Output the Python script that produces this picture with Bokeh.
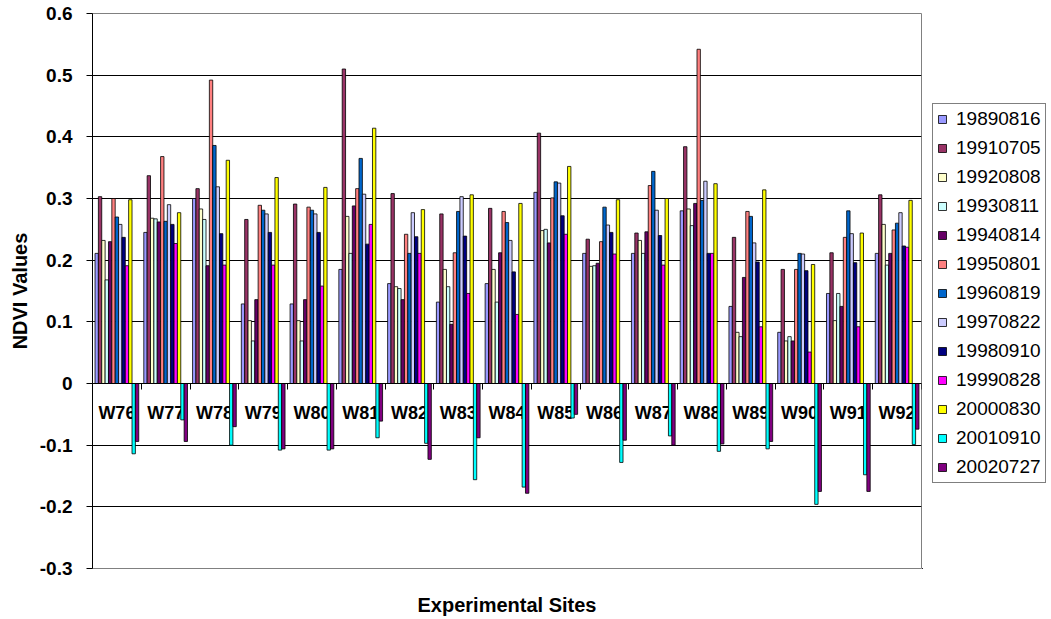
from bokeh.plotting import figure
from bokeh.layouts import row
from bokeh.models import (Range1d, LinearAxis, FixedTicker, Legend, LegendItem)
from bokeh.transform import dodge
from bokeh.embed import file_html
from bokeh.resources import INLINE

# Experimental sites (categories)
sites = ["W76", "W77", "W78", "W79", "W80", "W81", "W82", "W83", "W84",
         "W85", "W86", "W87", "W88", "W89", "W90", "W91", "W92"]

# Acquisition dates (series) and their fill colours
dates = ["19890816", "19910705", "19920808", "19930811", "19940814", "19950801",
         "19960819", "19970822", "19980910", "19990828", "20000830", "20010910",
         "20020727"]
colors = ["#9999FF", "#993366", "#FFFFCC", "#CCFFFF", "#660066", "#FF8080",
          "#0066CC", "#CCCCFF", "#000080", "#FF00FF", "#FFFF00", "#00FFFF",
          "#800080"]

# NDVI values per date, one value per site
ndvi_19890816 = [0.211, 0.245, 0.300, 0.129, 0.129, 0.185, 0.162, 0.132, 0.162,
                 0.310, 0.211, 0.211, 0.280, 0.125, 0.083, 0.146, 0.211]
ndvi_19910705 = [0.303, 0.337, 0.316, 0.266, 0.291, 0.510, 0.308, 0.275, 0.284,
                 0.406, 0.234, 0.244, 0.384, 0.237, 0.185, 0.212, 0.306]
ndvi_19920808 = [0.232, 0.268, 0.283, 0.102, 0.102, 0.271, 0.157, 0.185, 0.185,
                 0.248, 0.190, 0.232, 0.283, 0.083, 0.069, 0.102, 0.258]
ndvi_19930811 = [0.168, 0.267, 0.266, 0.069, 0.069, 0.211, 0.154, 0.157, 0.132,
                 0.250, 0.191, 0.211, 0.256, 0.076, 0.076, 0.146, 0.192]
ndvi_19940814 = [0.230, 0.262, 0.191, 0.136, 0.136, 0.288, 0.136, 0.096, 0.212,
                 0.228, 0.195, 0.246, 0.292, 0.172, 0.069, 0.125, 0.211]
ndvi_19950801 = [0.300, 0.368, 0.492, 0.289, 0.286, 0.316, 0.242, 0.212, 0.279,
                 0.301, 0.230, 0.321, 0.542, 0.279, 0.185, 0.237, 0.249]
ndvi_19960819 = [0.270, 0.263, 0.386, 0.281, 0.281, 0.365, 0.211, 0.279, 0.261,
                 0.327, 0.286, 0.344, 0.297, 0.271, 0.211, 0.280, 0.260]
ndvi_19970822 = [0.258, 0.290, 0.319, 0.275, 0.275, 0.307, 0.277, 0.303, 0.232,
                 0.325, 0.257, 0.281, 0.328, 0.228, 0.210, 0.243, 0.277]
ndvi_19980910 = [0.237, 0.258, 0.243, 0.245, 0.245, 0.226, 0.238, 0.239, 0.181,
                 0.272, 0.245, 0.240, 0.211, 0.197, 0.183, 0.196, 0.223]
ndvi_19990828 = [0.191, 0.227, 0.192, 0.192, 0.158, 0.258, 0.211, 0.146, 0.112,
                 0.242, 0.210, 0.192, 0.211, 0.092, 0.051, 0.092, 0.221]
ndvi_20000830 = [0.298, 0.277, 0.362, 0.334, 0.318, 0.414, 0.282, 0.306, 0.292,
                 0.352, 0.298, 0.300, 0.324, 0.314, 0.193, 0.244, 0.297]
ndvi_20010910 = [-0.114, -0.059, -0.100, -0.108, -0.108, -0.088, -0.097, -0.156, -0.168,
                 -0.056, -0.128, -0.085, -0.110, -0.106, -0.196, -0.148, -0.099]
ndvi_20020727 = [-0.094, -0.094, -0.070, -0.106, -0.106, -0.061, -0.123, -0.088, -0.178,
                 -0.050, -0.092, -0.100, -0.098, -0.094, -0.175, -0.175, -0.074]

series = [ndvi_19890816, ndvi_19910705, ndvi_19920808, ndvi_19930811, ndvi_19940814,
          ndvi_19950801, ndvi_19960819, ndvi_19970822, ndvi_19980910, ndvi_19990828,
          ndvi_20000830, ndvi_20010910, ndvi_20020727]

# y axis ticks and their printed labels
y_ticks = [-0.3, -0.2, -0.1, 0, 0.1, 0.2, 0.3, 0.4, 0.5, 0.6]
y_tick_labels = ["-0.3", "-0.2", "-0.1", "0", "0.1", "0.2", "0.3", "0.4", "0.5", "0.6"]

FONT = "Liberation Sans"

# each site occupies one unit slot; its group is centred in the slot
n_sites = len(sites)
site_centres = [k + 0.5 for k in range(n_sites)]
slot_edges = list(range(n_sites + 1))

p = figure(width=922, height=619,
           x_range=Range1d(0, n_sites), y_range=Range1d(-0.3, 0.6),
           output_backend="svg", toolbar_location=None, x_axis_location=None,
           min_border_left=92, min_border_right=1, min_border_top=13,
           min_border_bottom=51)
p.background_fill_color = "white"
p.border_fill_color = "white"
p.outline_line_color = "#808080"
p.outline_line_width = 1

# horizontal gridlines
p.xgrid.visible = False
p.ygrid.ticker = FixedTicker(ticks=y_ticks)
p.ygrid.grid_line_color = "black"
p.ygrid.grid_line_width = 1

# value axis
yax = p.yaxis[0]
yax.ticker = FixedTicker(ticks=y_ticks)
yax.major_label_overrides = {t: lab for t, lab in zip(y_ticks, y_tick_labels)}
yax.major_label_text_font = FONT
yax.major_label_text_font_size = "19px"
yax.major_label_text_font_style = "bold"
yax.major_label_text_color = "black"
yax.major_label_standoff = 14
yax.major_tick_out = 6
yax.major_tick_in = 0
yax.major_tick_line_color = "black"
yax.minor_tick_line_color = None
yax.axis_line_color = "black"
yax.axis_label = "NDVI Values"
yax.axis_label_text_font = FONT
yax.axis_label_text_font_size = "20px"
yax.axis_label_text_font_style = "bold"
yax.axis_label_text_color = "black"
yax.axis_label_standoff = 6

# grouped bars, one dodge offset per acquisition date
n = len(dates)
bar_w = 1.0 / (n + 1.5)
for i, (d, col, vals) in enumerate(zip(dates, colors, series)):
    src = {"pos": site_centres, "site": sites, "ndvi": vals}
    p.vbar(x=dodge("pos", (i - (n - 1) / 2) * bar_w),
           top="ndvi", width=bar_w, source=src,
           fill_color=col, line_color="black", line_width=0.8)

# bottom axis carrying only the axis title
title_axis = LinearAxis(ticker=FixedTicker(ticks=[]))
title_axis.axis_line_color = None
title_axis.major_tick_line_color = None
title_axis.minor_tick_line_color = None
title_axis.major_label_standoff = 0
title_axis.axis_label = "Experimental Sites"
title_axis.axis_label_text_font = FONT
title_axis.axis_label_text_font_size = "20px"
title_axis.axis_label_text_font_style = "bold"
title_axis.axis_label_text_color = "black"
title_axis.axis_label_standoff = 25
p.add_layout(title_axis, "below")

# site names on the zero line, drawn beneath the bars
cat_axis = LinearAxis(fixed_location=0, level="underlay",
                      ticker=FixedTicker(ticks=site_centres))
cat_axis.major_label_overrides = {c: s for c, s in zip(site_centres, sites)}
cat_axis.major_tick_line_color = None
cat_axis.minor_tick_line_color = None
cat_axis.axis_line_color = None
cat_axis.major_label_text_font = FONT
cat_axis.major_label_text_font_size = "18px"
cat_axis.major_label_text_font_style = "bold"
cat_axis.major_label_text_color = "black"
cat_axis.major_label_standoff = 13
p.add_layout(cat_axis, "below")

# tick marks between sites on the zero line
slot_axis = LinearAxis(fixed_location=0, ticker=FixedTicker(ticks=slot_edges))
slot_axis.major_label_overrides = {e: "" for e in slot_edges}
slot_axis.major_tick_out = 6
slot_axis.major_tick_in = 0
slot_axis.major_tick_line_color = "black"
slot_axis.minor_tick_line_color = None
slot_axis.axis_line_color = "black"
p.add_layout(slot_axis, "below")

# legend panel to the right of the chart
lf = figure(width=129, height=619, x_range=Range1d(0, 1), y_range=Range1d(0, 1),
            output_backend="svg", toolbar_location=None,
            x_axis_location=None, y_axis_location=None,
            min_border_left=0, min_border_right=0, min_border_top=0,
            min_border_bottom=0)
lf.xgrid.visible = False
lf.ygrid.visible = False
lf.outline_line_color = None
lf.background_fill_color = "white"
lf.border_fill_color = "white"

# legend swatches: one proxy bar per date, kept outside the visible panel range
legend_items = []
for d, col in zip(dates, colors):
    swatch = lf.vbar(x=[-5.0], top=[-5.0], bottom=[-6.0], width=0.1,
                     fill_color=col, line_color="black", line_width=0.8)
    legend_items.append(LegendItem(label=d, renderers=[swatch]))

legend = Legend(items=legend_items, location=(10, 85), orientation="vertical")
legend.label_text_font = FONT
legend.label_text_font_size = "19px"
legend.label_text_color = "black"
legend.glyph_height = 10
legend.glyph_width = 10
legend.label_standoff = 9
legend.spacing = 7
legend.padding = 4
legend.margin = 0
legend.border_line_color = "black"
legend.border_line_width = 1
legend.background_fill_color = "white"
legend.background_fill_alpha = 1
lf.add_layout(legend)

layout = row(p, lf, spacing=0)
open("out.html", "w").write(file_html(layout, INLINE))
